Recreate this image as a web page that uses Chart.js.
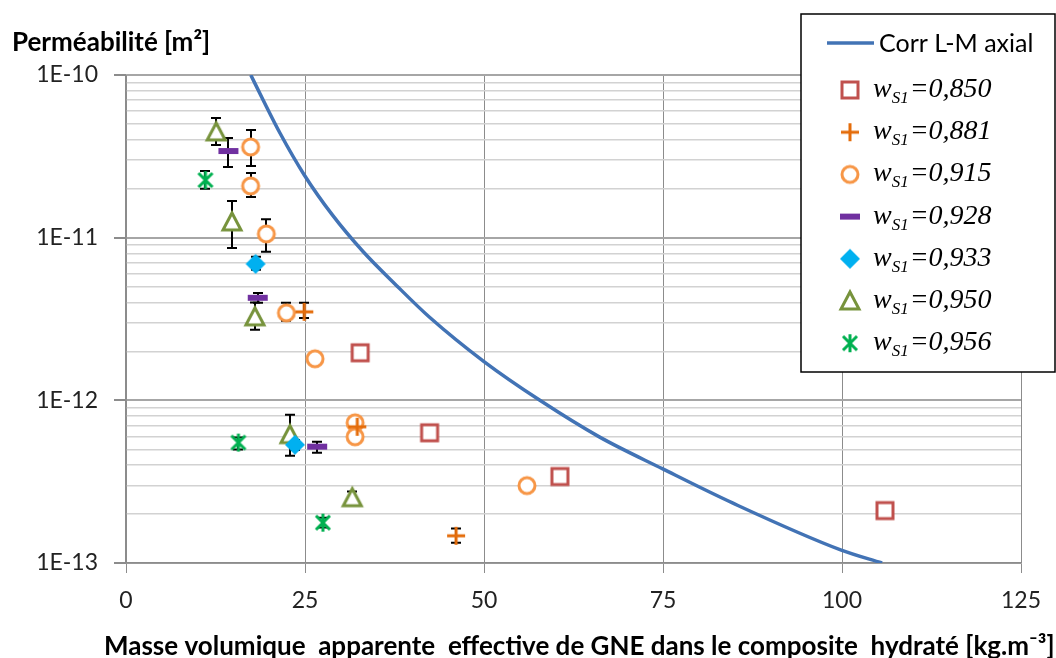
<!DOCTYPE html>
<html>
<head>
<meta charset="utf-8">
<script src="https://cdn.jsdelivr.net/npm/chart.js@4.4.1/dist/chart.umd.min.js"></script>
<style>
    html, body { margin: 0; padding: 0; background: #fff; }
    canvas { display: block; }
</style>
</head>
<body>
<canvas id="chart" width="1056" height="658"></canvas>
<script>
// Correlation L-M axiale
const corrX = [17.43, 19.15, 21.5, 24.9, 28.9, 33.1, 37.8, 42.4, 50.0, 57.8, 66.1, 74.9, 84.7, 99.9, 105.6];
const corrY = [1e-10, 7.02e-11, 4.4e-11, 2.43e-11, 1.365e-11, 8.22e-12, 5.07e-12, 3.24e-12, 1.73e-12, 1.0e-12, 5.96e-13, 3.8e-13, 2.34e-13, 1.2e-13, 1e-13];

// Points de mesure, barres d'erreur (lo / hi), null = pas de barre
const x850 = [32.7, 42.4, 60.6, 106.0];
const y850 = [1.96e-12, 6.32e-13, 3.4e-13, 2.1e-13];
const lo850 = [null, null, null, null];
const hi850 = [null, null, null, null];

const x881 = [24.9, 32.3, 46.1];
const y881 = [3.5e-12, 6.88e-13, 1.47e-13];
const lo881 = [3.21e-12, null, 1.33e-13];
const hi881 = [3.98e-12, null, 1.63e-13];

const x915 = [17.4, 17.4, 19.6, 22.4, 26.4, 32.0, 32.0, 56.0];
const y915 = [3.61e-11, 2.08e-11, 1.055e-11, 3.45e-12, 1.8e-12, 7.28e-13, 5.97e-13, 2.99e-13];
const lo915 = [2.76e-11, 1.78e-11, 8.18e-12, 3.08e-12, null, null, null, null];
const hi915 = [4.59e-11, 2.5e-11, 1.3e-11, 3.98e-12, null, null, null, null];

const x928 = [14.3, 18.4, 26.7];
const y928 = [3.41e-11, 4.27e-12, 5.19e-13];
const lo928 = [2.72e-11, 3.98e-12, 4.77e-13];
const hi928 = [4.1e-11, 4.57e-12, 5.57e-13];

const x933 = [18.1, 23.6];
const y933 = [6.9e-12, 5.33e-13];
const lo933 = [6.34e-12, 4.95e-13];
const hi933 = [7.62e-12, 5.7e-13];

const x950 = [12.6, 14.8, 18.0, 22.9, 31.6];
const y950 = [4.47e-11, 1.25e-11, 3.26e-12, 6.15e-13, 2.52e-13];
const lo950 = [3.71e-11, 8.65e-12, 2.72e-12, 4.57e-13, 2.34e-13];
const hi950 = [5.44e-11, 1.68e-11, 4.0e-12, 8.16e-13, 2.75e-13];

const x956 = [11.1, 15.7, 27.5];
const y956 = [2.26e-11, 5.5e-13, 1.77e-13];
const lo956 = [2.0e-11, 4.99e-13, 1.65e-13];
const hi956 = [2.57e-11, 5.9e-13, 1.9e-13];

const wS1 = ["0,850", "0,881", "0,915", "0,928", "0,933", "0,950", "0,956"];

// axes
const xMin = 0, xMax = 125, xStep = 25;
const yDecades = [-13, -12, -11, -10];
const yMult = [1, 2, 3, 4, 5, 6, 7, 8, 9];

const curveLabel = "Corr L-M axial";
const yTitle = "Perméabilité [m²]";
const xTitle = "Masse volumique  apparente  effective de GNE dans le composite  hydraté [kg.m⁻³]";

const curveColor = "#4273B5";

function makeMarker(kind, color) {
    const c = document.createElement("canvas");
    c.width = 26;
    c.height = 26;
    const g = c.getContext("2d");
    g.strokeStyle = color;
    g.fillStyle = "#fff";
    g.lineWidth = 3;
    g.lineJoin = "miter";
    if (kind === "square") {
        g.fillRect(5, 5, 16, 16);
        g.strokeRect(5, 5, 16, 16);
    } else if (kind === "plus") {
        g.beginPath();
        g.moveTo(4, 13); g.lineTo(22, 13);
        g.moveTo(13, 4); g.lineTo(13, 22);
        g.stroke();
    } else if (kind === "circle") {
        g.beginPath();
        g.arc(13, 13, 8, 0, Math.PI * 2);
        g.fill();
        g.stroke();
    } else if (kind === "dash") {
        g.fillStyle = color;
        g.fillRect(3, 10, 20, 6);
    } else if (kind === "diamond") {
        g.fillStyle = color;
        g.beginPath();
        g.moveTo(13, 3); g.lineTo(23, 13); g.lineTo(13, 23); g.lineTo(3, 13);
        g.closePath();
        g.fill();
    } else if (kind === "triangle") {
        g.beginPath();
        g.moveTo(13, 4); g.lineTo(22, 21); g.lineTo(4, 21);
        g.closePath();
        g.fill();
        g.stroke();
    } else if (kind === "star") {
        g.beginPath();
        g.moveTo(6, 6); g.lineTo(20, 20);
        g.moveTo(20, 6); g.lineTo(6, 20);
        g.moveTo(13, 4); g.lineTo(13, 22);
        g.stroke();
    }
    return c;
}

const series = [
    { x: x850, y: y850, lo: lo850, hi: hi850, kind: "square", color: "#C0504D" },
    { x: x881, y: y881, lo: lo881, hi: hi881, kind: "plus", color: "#E46C0A" },
    { x: x915, y: y915, lo: lo915, hi: hi915, kind: "circle", color: "#F79646" },
    { x: x928, y: y928, lo: lo928, hi: hi928, kind: "dash", color: "#7030A0" },
    { x: x933, y: y933, lo: lo933, hi: hi933, kind: "diamond", color: "#00B0F0" },
    { x: x950, y: y950, lo: lo950, hi: hi950, kind: "triangle", color: "#77933C" },
    { x: x956, y: y956, lo: lo956, hi: hi956, kind: "star", color: "#00B050" }
];
series.forEach(s => { s.marker = makeMarker(s.kind, s.color); });

const yTickValues = [];
yDecades.forEach(d => {
    yMult.forEach(m => {
        if (d === yDecades[yDecades.length - 1] && m > 1) return;
        yTickValues.push(Number(m + "e" + d));
    });
});

function isDecade(v) {
    const l = Math.log10(v);
    return Math.abs(l - Math.round(l)) < 1e-6;
}

const datasets = [{
    label: curveLabel,
    data: corrX.map((x, i) => ({ x: x, y: corrY[i] })),
    showLine: true,
    borderColor: curveColor,
    borderWidth: 3.5,
    pointRadius: 0,
    cubicInterpolationMode: "monotone",
    fill: false,
    order: 0
}];
series.forEach((s, k) => {
    datasets.push({
        label: "wS1=" + wS1[k],
        data: s.x.map((x, i) => ({ x: x, y: s.y[i] })),
        showLine: false,
        pointStyle: s.marker,
        pointRadius: 10,
        order: 1
    });
});

const errorBars = {
    id: "errorBars",
    beforeDatasetsDraw(chart) {
        const { ctx, scales: { x, y } } = chart;
        ctx.save();
        ctx.strokeStyle = "#000";
        ctx.lineWidth = 2;
        series.forEach(s => {
            s.lo.forEach((lo, i) => {
                if (lo == null) return;
                const px = Math.round(x.getPixelForValue(s.x[i]));
                const p1 = y.getPixelForValue(lo);
                const p2 = y.getPixelForValue(s.hi[i]);
                ctx.beginPath();
                ctx.moveTo(px, p1); ctx.lineTo(px, p2);
                ctx.moveTo(px - 5, p1); ctx.lineTo(px + 5, p1);
                ctx.moveTo(px - 5, p2); ctx.lineTo(px + 5, p2);
                ctx.stroke();
            });
        });
        ctx.restore();
    }
};

const titlesAndLegend = {
    id: "titlesAndLegend",
    afterDraw(chart) {
        const ctx = chart.ctx;
        ctx.save();
        ctx.fillStyle = "#000";
        ctx.textBaseline = "alphabetic";
        ctx.textAlign = "left";
        ctx.font = "bold 26px Lato";
        ctx.fillText(yTitle, 12, 51);
        ctx.fillText(xTitle, 104, 655);

        // legende
        const L = 801, T = 14, R = 1055, B = 372;
        ctx.fillStyle = "#fff";
        ctx.fillRect(L, T, R - L, B - T);
        ctx.strokeStyle = "#000";
        ctx.lineWidth = 1.5;
        ctx.strokeRect(L, T, R - L, B - T);

        ctx.strokeStyle = curveColor;
        ctx.lineWidth = 3.5;
        ctx.beginPath();
        ctx.moveTo(827, 43); ctx.lineTo(874, 43);
        ctx.stroke();
        ctx.fillStyle = "#000";
        ctx.font = "25px Lato";
        ctx.textBaseline = "middle";
        ctx.fillText(curveLabel, 879, 44);

        ctx.textBaseline = "alphabetic";
        series.forEach((s, k) => {
            const cy = 90 + k * 42.2;
            ctx.drawImage(s.marker, 850 - 13, cy - 13);
            let tx = 873;
            ctx.fillStyle = "#000";
            ctx.font = "italic 28px 'Liberation Serif'";
            ctx.fillText("w", tx, cy + 7);
            tx += ctx.measureText("w").width;
            ctx.font = "italic 17px 'Liberation Serif'";
            ctx.fillText("S1", tx, cy + 13);
            tx += ctx.measureText("S1").width + 1;
            ctx.font = "italic 28px 'Liberation Serif'";
            ctx.fillText("=" + wS1[k], tx, cy + 7);
        });
        ctx.restore();
    }
};

new Chart(document.getElementById("chart"), {
    type: "scatter",
    data: { datasets: datasets },
    plugins: [errorBars, titlesAndLegend],
    options: {
        responsive: false,
        animation: false,
        devicePixelRatio: 1,
        layout: { padding: { top: 75, right: 35, bottom: 0, left: 0 } },
        plugins: {
            legend: { display: false },
            tooltip: { enabled: false }
        },
        scales: {
            x: {
                type: "linear",
                min: xMin,
                max: xMax,
                afterFit(scale) { scale.height = 95; },
                ticks: {
                    stepSize: xStep,
                    color: "#222",
                    font: { family: "Lato", size: 23 },
                    padding: 14
                },
                grid: { color: "#8c8c8c", lineWidth: 1, tickLength: 10, tickColor: "#8c8c8c" },
                border: { color: "#8c8c8c", width: 1.5 }
            },
            y: {
                type: "logarithmic",
                min: 1e-13,
                max: 1e-10,
                afterFit(scale) { scale.width = 126; },
                afterBuildTicks(scale) {
                    scale.ticks = yTickValues.map(v => ({ value: v, major: isDecade(v) }));
                },
                ticks: {
                    autoSkip: false,
                    color: "#222",
                    font: { family: "Lato", size: 23 },
                    padding: 16,
                    callback(v) {
                        if (!isDecade(v)) return "";
                        return "1E" + Math.round(Math.log10(v));
                    }
                },
                grid: {
                    color: c => isDecade(c.tick.value) ? "#a6a6a6" : "#d2d2d2",
                    lineWidth: c => isDecade(c.tick.value) ? 2 : 1.5,
                    tickLength: 12,
                    tickColor: c => isDecade(c.tick.value) ? "#8c8c8c" : "rgba(0,0,0,0)"
                },
                border: { color: "#8c8c8c", width: 1.5 }
            }
        }
    }
});
</script>
</body>
</html>
